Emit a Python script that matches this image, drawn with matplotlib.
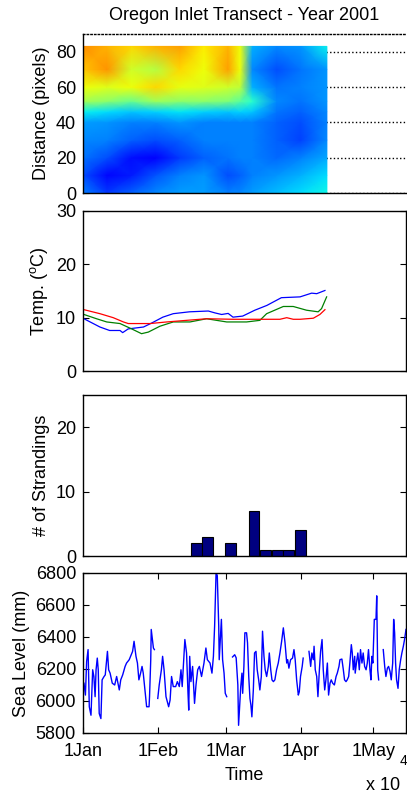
import numpy as np
import matplotlib.pyplot as plt

plt.rcParams['font.family'] = ['Liberation Sans Narrow', 'Liberation Sans', 'DejaVu Sans']
plt.rcParams['font.size'] = 13
plt.rcParams['mathtext.default'] = 'regular'

# transect colour field (jet scale 0-1), rows = distance, cols = day of year
grid_dist = [0, 10, 20, 30, 40, 46, 52, 60, 70, 83]
grid_day = [0, 10, 20, 30, 40, 50, 60, 65, 70, 80, 90, 100.8]
transect = [
    [0.25, 0.18, 0.22, 0.26, 0.28, 0.28, 0.25, 0.26, 0.28, 0.31, 0.34, 0.37],
    [0.20, 0.13, 0.15, 0.21, 0.25, 0.27, 0.20, 0.22, 0.25, 0.27, 0.30, 0.34],
    [0.24, 0.20, 0.14, 0.12, 0.18, 0.22, 0.24, 0.25, 0.25, 0.23, 0.25, 0.29],
    [0.26, 0.25, 0.22, 0.20, 0.22, 0.25, 0.25, 0.25, 0.25, 0.22, 0.19, 0.26],
    [0.28, 0.27, 0.25, 0.25, 0.27, 0.25, 0.25, 0.25, 0.25, 0.22, 0.20, 0.25],
    [0.36, 0.34, 0.32, 0.33, 0.35, 0.33, 0.32, 0.33, 0.32, 0.24, 0.22, 0.26],
    [0.55, 0.52, 0.48, 0.54, 0.52, 0.52, 0.50, 0.46, 0.40, 0.26, 0.24, 0.27],
    [0.64, 0.62, 0.64, 0.68, 0.63, 0.62, 0.60, 0.58, 0.30, 0.24, 0.25, 0.27],
    [0.70, 0.75, 0.60, 0.57, 0.68, 0.64, 0.74, 0.64, 0.26, 0.20, 0.24, 0.27],
    [0.76, 0.72, 0.68, 0.72, 0.74, 0.66, 0.72, 0.64, 0.30, 0.26, 0.27, 0.36],
]

# water temperature at three stations
temp_b_day = [0.4, 7, 11, 15.3, 16.4, 18.7, 25, 28.4, 33, 37.3, 44, 51.8, 54.5, 57.3,
              60, 62, 66, 71, 76, 82, 89.7, 94.5, 96.6, 100]
temp_b = [9.8, 8.25, 7.6, 7.6, 7.2, 7.9, 8.25, 9.0, 10.1, 10.75, 11.1, 11.25, 10.9, 10.6,
          10.8, 10.1, 10.3, 11.4, 12.3, 13.75, 13.9, 14.6, 14.5, 15.1]
temp_g_day = [0.4, 5.6, 9.8, 15.3, 20.1, 24.2, 27, 31.8, 37.3, 44.2, 51.1, 55.2, 59.4,
              67.6, 73.1, 75.9, 82.8, 86.9, 92.4, 97.2, 98.6, 100.7]
temp_g = [10.6, 9.8, 9.2, 8.9, 7.9, 7.0, 7.3, 8.4, 9.2, 9.2, 9.8, 9.5, 9.2,
          9.2, 9.5, 10.75, 12.1, 12.1, 11.4, 11.1, 11.7, 13.9]
temp_r_day = [0.4, 7, 12.5, 16.7, 18.7, 27.7, 34.6, 42.8, 51.1, 62.1, 70.4, 81.4, 84.2,
              86.9, 89.7, 95.2, 97.9, 100]
temp_r = [11.5, 10.75, 10.0, 9.2, 8.9, 8.9, 9.2, 9.5, 9.8, 9.7, 9.7, 9.7, 10.0,
          9.7, 9.7, 9.9, 10.6, 11.5]

# strandings per bin
strand_day = [46.8, 51.5, 61.0, 70.7, 75.5, 80.3, 85.0, 89.8]
strand_count = [2, 3, 2, 7, 1, 1, 1, 4]

# sea level (nan = missing record)
sea_day = [
    0.4, 1.0, 1.5, 2.1, 2.6, 3.3, 4.0, 4.5, 5.0, 5.4, 5.9, 6.3, 6.7, 7.4, 7.9, 8.7,
    9.2, 9.8, 10.1, 10.6, 11.2, 12.1, 13.1, 13.9, 15.0, 15.6, 16.4, 17.4, 18.0, 19.1,
    20.5, 21.1, 21.9, 22.5, 23.1, 23.8, 24.4, 24.9, 25.6, 26.3, 27.3, 27.5, 28.0, 28.2,
    28.7, 29.1, 29.5, 30.2,
    30.9, 31.5, 32.4, 32.9, 33.5, 34.3, 35.4, 36.0, 36.6, 37.3, 38.3, 39.0, 39.8, 40.5,
    41.0, 42.1, 42.8, 43.4, 43.7, 44.1, 44.6, 45.3, 46.1, 46.7, 47.4, 48.1, 49.0, 50.0,
    50.8, 51.4, 52.5, 53.3, 53.9, 54.4, 55.0, 55.5, 56.1, 56.3, 57.2, 57.7, 58.3, 58.8,
    59.4, 60.6,
    61.8, 62.7, 63.3, 64.0, 64.3, 65.2, 65.7, 66.0, 66.5, 66.9, 67.6, 68.0, 68.5, 69.0,
    69.4, 69.8, 70.4, 70.9, 71.5, 72.0, 72.6, 73.1, 73.7, 74.2, 74.8, 75.3, 75.9, 76.6,
    77.0, 77.6, 78.1, 78.7, 79.3, 80.0, 80.7, 81.4, 82.1, 82.8, 83.5, 84.2, 84.6, 85.1,
    85.8, 86.6, 87.2, 87.7, 88.3, 89.0, 89.4, 89.9, 90.6, 91.0, 92.2,
    93.4, 94.1, 94.6, 95.2, 95.5, 96.0, 96.6, 97.1, 97.7, 98.2, 98.8, 99.3, 99.9, 100.4,
    101.0, 101.5, 102.1, 102.6, 103.2, 103.9, 104.6, 105.1, 105.8, 106.2, 107.0, 107.6,
    108.1, 108.7, 109.2, 109.8, 110.3, 110.9, 111.3, 111.7, 112.3, 112.5, 113.1, 113.6,
    114.2, 114.7, 115.3, 115.8, 116.4, 117.0, 117.5, 118.0, 118.6, 119.0, 119.4, 119.8,
    120.4, 121.1, 121.4, 121.8, 122.2, 123.2,
    124.1, 124.7, 125.2, 125.8, 126.3, 126.9, 127.4, 128.0, 128.4, 128.8, 129.2, 129.6,
    130.2, 130.7, 131.3, 131.8, 132.4, 132.9, 133.5,
]
sea_mm = [
    6111, 6037, 6247, 6321, 5964, 5911, 6195, 6153, 6027, 6195, 6268, 6195, 5922, 5890, 6132, 6153,
    6163, 6258, 6310, 6195, 6174, 6111, 6100, 6153, 6069, 6132, 6163, 6216, 6237, 6258,
    6310, 6373, 6279, 6237, 6132, 6174, 6216, 6174, 6069, 5964, 5964, 6027, 6258, 6447,
    6384, 6331, 6321, np.nan,
    6016, 6100, 6195, 6279, 6195, 6027, 5964, 6006, 6153, 6090, 6090, 6121, 6090, 6195,
    6090, 6384, 6300, 6048, 5943, 6279, 6121, 6216, 5985, 6100, 6195, 6216, 6153, 6237,
    6331, 6258, 6237, 6174, 6279, 6468, 6804, 6783, 6468, 6258, 6510, 6258, 6174, 6048,
    6027, np.nan,
    6275, 6289, 6270, 6100, 5848, 6090, 6174, 6048, 6216, 6426, 6426, 6363, 6153, 6016,
    5974, 5901, 6069, 6300, 6310, 6195, 6132, 6069, 6153, 6436, 6279, 6195, 6153, 6216,
    6300, 6195, 6132, 6121, 6132, 6195, 6237, 6300, 6373, 6457, 6363, 6237, 6258, 6205,
    6258, 6268, 6321, 6258, 6132, 6037, 6058, 6153, 6216, 6268, np.nan,
    6310, 6216, 6300, 6258, 6342, 6195, 6153, 6027, 6195, 6310, 6384, 6195, 6069, 6132,
    6237, 6037, 6111, 6132, 6111, 6100, 6153, 6174, 6216, 6258, 6262, 6195,
    6132, 6121, 6132, 6153, 6237, 6352, 6300, 6195, 6279, 6174, 6247, 6300,
    6195, 6321, 6237, 6300, 6216, 6195, 6237, 6321, 6195, 6132, 6279, 6237,
    6510, 6510, 6657, 6195, 6132, np.nan,
    6321, 6216, 6153, 6205, 6216, 6184, 6132, 6237, 6510, 6426, 6237, 6132,
    6079, 6195, 6258, 6300, 6342, 6384, 6447,
]

month_day = [0, 31, 59, 90, 120]
month_lab = ['1Jan', '1Feb', '1Mar', '1Apr', '1May']


def style(ax, right=True):
    ax.set_xlim(0, 133.5)
    ax.tick_params(direction='in', length=4, width=0.8, right=right, labelsize=13, pad=5)
    for s in ax.spines.values():
        s.set_linewidth(1.0)


def main():
    fig = plt.figure(figsize=(4.07, 7.95), dpi=100)
    x0, w = 83 / 407, 323 / 407

    # transect
    ax1 = fig.add_axes([x0, 0.7572, w, 0.2])
    ax1.pcolormesh(grid_day, grid_dist, np.array(transect), shading='gouraud',
                   cmap='jet', vmin=0, vmax=1, zorder=2)
    style(ax1, right=False)
    ax1.set_ylim(0, 90)
    ax1.set_yticks([0, 20, 40, 60, 80])
    ax1.set_xticks([])
    ax1.yaxis.grid(True, linestyle=':', color='k', linewidth=1.0)
    ax1.set_axisbelow(True)
    ax1.spines['right'].set_visible(False)
    ax1.spines['top'].set_linestyle(':')
    ax1.set_ylabel('Distance (pixels)')
    ax1.set_title('Oregon Inlet Transect - Year 2001', fontsize=13, pad=10)

    # temperature
    ax2 = fig.add_axes([x0, 0.5333, w, 0.2013])
    ax2.plot(temp_b_day, temp_b, color='b', lw=0.9)
    ax2.plot(temp_g_day, temp_g, color=(0, 0.5, 0), lw=0.9)
    ax2.plot(temp_r_day, temp_r, color='r', lw=0.9)
    style(ax2)
    ax2.set_ylim(0, 30)
    ax2.set_yticks([0, 10, 20, 30])
    ax2.set_xticks([])
    ax2.set_ylabel(r'Temp. ($^{o}$C)')

    # strandings
    ax3 = fig.add_axes([x0, 0.3006, w, 0.2025])
    ax3.bar(strand_day, strand_count, width=4.4, color=(0, 0, 0.5), edgecolor='k', linewidth=0.8)
    style(ax3)
    ax3.set_ylim(0, 25)
    ax3.set_yticks([0, 10, 20])
    ax3.set_xticks([])
    ax3.set_ylabel('# of Strandings')

    # sea level
    ax4 = fig.add_axes([x0, 0.078, w, 0.2013])
    ax4.plot(sea_day, sea_mm, color='b', lw=1.0)
    style(ax4)
    ax4.tick_params(top=True)
    ax4.tick_params(axis='x', pad=7)
    ax4.set_ylim(5800, 6800)
    ax4.set_yticks(np.arange(5800, 6801, 200))
    ax4.set_xticks(month_day)
    ax4.set_xticklabels(month_lab)
    ax4.set_ylabel('Sea Level (mm)')
    ax4.set_xlabel('Time', labelpad=5)

    fig.text(366 / 407, 1 - 786 / 795, 'x 10', fontsize=13, va='center')
    fig.text(400 / 407, 1 - 761 / 795, '4', fontsize=10, va='center')

    fig.savefig('out.png', dpi=100)


if __name__ == '__main__':
    main()
